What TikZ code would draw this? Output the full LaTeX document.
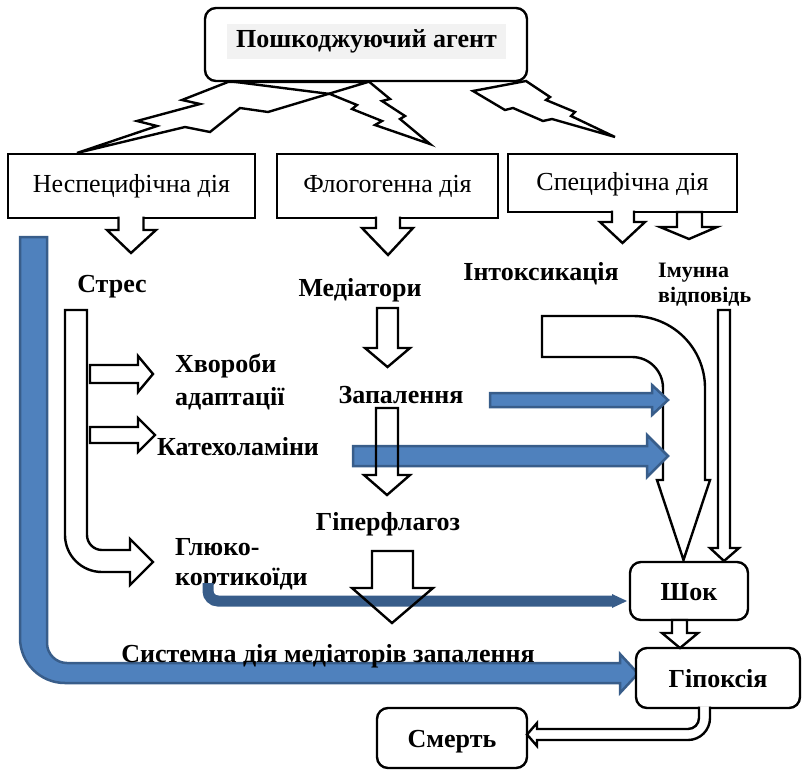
\documentclass[tikz,border=0pt]{standalone}
\usepackage{fontspec}
\setmainfont{Liberation Serif}
\definecolor{ofblue}{HTML}{4F81BD}
\definecolor{ofline}{HTML}{385D8A}

\begin{document}
\begin{tikzpicture}[x=1pt,y=1pt,
  frame/.style={draw, line width=2.4pt, text height=18pt, text depth=6pt, font=\fontsize{26}{30}\selectfont},
  rframe/.style={frame, fill=white, rounded corners=11pt, text depth=0pt, font=\bfseries\fontsize{26}{30}\selectfont},
  lbl/.style={anchor=base, font=\bfseries\fontsize{26}{30}\selectfont},
  barrow/.style={draw, line width=2.4pt, fill=white},
  oarrow/.style={draw, line width=2.4pt},
  bolt/.style={draw, line width=2.4pt},
  bluearr/.style={fill=ofblue, draw=ofline, line width=2.5pt}]
\tikzstyle{every node}+=[inner sep=0pt]
\useasboundingbox (0,0) rectangle (802,-771);
\draw [bolt] (228,-82) -- (182,-100) -- (200,-104) -- (137,-121) -- (157,-126) -- (77,-153) -- (185,-127) -- (210,-132) -- (240,-108) -- (268,-112) -- (368,-82) -- cycle;
\draw [bolt] (228,-81) -- (330,-94) -- (357,-105) -- (352,-109) -- (382,-121) -- (375,-125) -- (430,-144) -- (400,-119) -- (405,-116) -- (382,-101) -- (390,-99) -- (367,-80) -- cycle;
\draw [bolt] (473,-91) -- (526,-81) -- (550,-97) -- (546,-100) -- (575,-112) -- (571,-116) -- (615,-137) -- (552,-119) -- (543,-121) -- (513,-108) -- (505,-110) -- cycle;
\node [rframe, minimum width=322, minimum height=73] (agent) at (366,-44.5) {};
\node [fill=black!5, minimum width=279, minimum height=35, text height=18pt, text depth=6pt, font=\bfseries\fontsize{26}{30}\selectfont] (agentlbl) at (366.5,-41) {Пошкоджуючий агент};
\node [frame, minimum width=247, minimum height=64] (nonspec) at (131.5,-186) {Неспецифічна дія};
\node [frame, minimum width=221, minimum height=64] (phlog) at (387.5,-186) {Флогогенна дія};
\node [frame, minimum width=229, minimum height=58, text depth=3pt] (spec) at (622.5,-183) {Специфічна дія};
\draw [barrow] (118.5,-216.5) -- (118.5,-230) -- (107,-230) -- (131,-253) -- (156,-230) -- (143.5,-230) -- (143.5,-216.5);
\draw [barrow] (376,-216.5) -- (376,-228) -- (362,-228) -- (388,-255) -- (413,-228) -- (400,-228) -- (400,-216.5);
\draw [barrow] (612,-210.5) -- (612,-222) -- (600,-222) -- (622.5,-243) -- (645,-222) -- (634,-222) -- (634,-210.5);
\draw [barrow] (677,-212) -- (677,-227) -- (660,-227) -- (689,-239) -- (717,-227) -- (702,-227) -- (702,-212) -- cycle;
\draw [bluearr] (20,-237) -- (47,-237) -- (47,-643) arc [start angle=180, end angle=270, radius=20] -- (620,-663) -- (620,-654) -- (638,-673.5) -- (620,-693) -- (620,-683) -- (65,-683) arc [start angle=270, end angle=180, radius=45] -- cycle;
\draw [barrow] (65,-310) -- (65,-535) arc [start angle=180, end angle=270, radius=37] -- (130,-572) -- (130,-585) -- (153,-562) -- (130,-539) -- (130,-550) -- (102,-550) arc [start angle=270, end angle=180, radius=15] -- (87,-310) -- cycle;
\draw [barrow] (90,-365) -- (138,-365) -- (138,-356) -- (153,-374) -- (138,-392) -- (138,-383) -- (90,-383) -- cycle;
\draw [barrow] (90,-427) -- (138,-427) -- (138,-418) -- (155,-435) -- (138,-452) -- (138,-443) -- (90,-443) -- cycle;
\draw [barrow] (542,-316) -- (633,-316) arc [start angle=90, end angle=0, radius=72] -- (705,-480) -- (710,-480) -- (683.5,-560) -- (657,-480) -- (663,-480) -- (663,-388) arc [start angle=0, end angle=90, radius=31] -- (542,-357) -- cycle;
\draw [barrow] (718,-310) -- (718,-548) -- (710,-548) -- (724,-561) -- (739,-548) -- (730,-548) -- (730,-310) -- cycle;
\node [lbl] (stress) at (112,-292) {Стрес};
\node [lbl] (mediat) at (360,-296) {Медіатори};
\node [lbl] (intox) at (541,-280) {Інтоксикація};
\node [lbl, anchor=base west, align=left, font=\bfseries\fontsize{22}{25}\selectfont] (immune) at (658,-302) {Імунна\\відповідь};
\node [lbl, anchor=base west, align=left, font=\bfseries\fontsize{26}{33}\selectfont] (disease) at (175,-405) {Хвороби\\адаптації};
\node [lbl, anchor=base west] (catechol) at (157,-455) {Катехоламіни};
\node [lbl] (inflam) at (401,-403) {Запалення};
\node [lbl] (hyper) at (388,-530) {Гіперфлагоз};
\node [lbl, anchor=base west, align=left, font=\bfseries\fontsize{26}{30}\selectfont] (gluco) at (175,-585) {Глюко-\\кортикоїди};
\node [lbl] (system) at (328,-662) {Системна дія медіаторів запалення};
\draw [line width=11pt, ofline, rounded corners=10pt] (208,-583) |- (613,-601);
\fill [ofline] (612,-594) -- (627,-601) -- (612,-608) -- cycle;
\draw [bluearr] (490,-393) -- (652,-393) -- (652,-385) -- (668,-400) -- (652,-415) -- (652,-407) -- (490,-407) -- cycle;
\draw [bluearr] (353,-446) -- (647,-446) -- (647,-435) -- (668,-456) -- (647,-477) -- (647,-466) -- (353,-466) -- cycle;
\draw [oarrow] (377,-308) -- (377,-348) -- (365,-348) -- (387.5,-367) -- (410,-348) -- (398,-348) -- (398,-308) -- cycle;
\draw [oarrow] (376,-408) -- (376,-475) -- (364,-475) -- (387,-495) -- (410,-475) -- (398,-475) -- (398,-408) -- cycle;
\draw [oarrow] (372,-551) -- (372,-588) -- (352,-588) -- (392,-623) -- (433,-588) -- (413,-588) -- (413,-551) -- cycle;
\node [rframe, minimum width=118, minimum height=58] (shock) at (689,-591) {Шок};
\node [rframe, minimum width=164, minimum height=60] (hypox) at (718,-678) {Гіпоксія};
\node [rframe, minimum width=150, minimum height=60] (death) at (452,-738) {Смерть};
\draw [barrow] (672,-620) -- (672,-633) -- (662,-633) -- (680,-648) -- (698,-633) -- (687,-633) -- (687,-620) -- cycle;
\draw [barrow] (710,-706.5) -- (710,-718) arc [start angle=0, end angle=-90, radius=22] -- (537,-740) -- (537,-746) -- (527,-734.5) -- (537,-723) -- (537,-729) -- (688,-729) arc [start angle=-90, end angle=0, radius=11] -- (699,-706.5);
\end{tikzpicture}
\end{document}
